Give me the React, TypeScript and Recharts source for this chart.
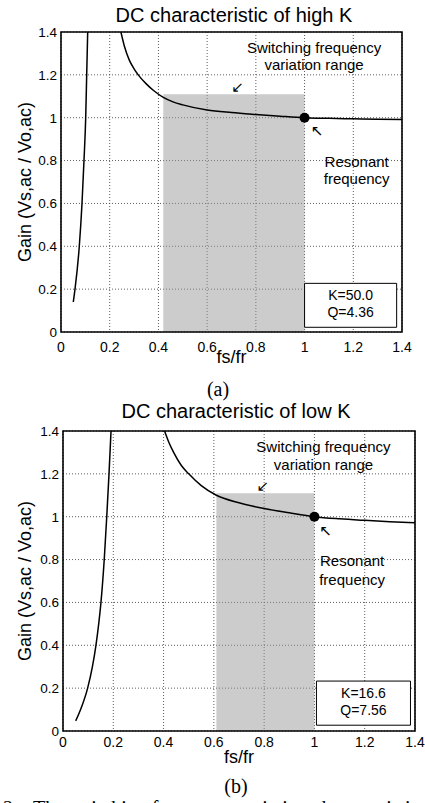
import { LineChart, Line, XAxis, YAxis, CartesianGrid, ReferenceArea, ReferenceDot } from 'recharts'

// shared axis ticks (fs/fr and gain both 0..1.4)
const axisTicks = [0, 0.2, 0.4, 0.6, 0.8, 1, 1.2, 1.4]

// (a) high K : K=50.0, Q=4.36
const highBelowX = [0.0505, 0.0575, 0.0751, 0.0862, 0.0944, 0.1014, 0.1055, 0.1096]
const highBelowGain = [0.14, 0.2, 0.4, 0.6, 0.8, 1.0, 1.2, 1.4]
const highAboveX = [0.246, 0.26, 0.28, 0.3, 0.317, 0.35, 0.38, 0.42, 0.46, 0.5, 0.6, 0.7, 0.8, 0.9, 1.0, 1.1, 1.2, 1.3, 1.4]
const highAboveGain = [1.4, 1.335, 1.27, 1.228, 1.2, 1.158, 1.127, 1.095, 1.074, 1.06, 1.036, 1.024, 1.015, 1.007, 1.0, 0.997, 0.995, 0.993, 0.992]
const highRange = [0.42, 1.0]

// (b) low K : K=16.6, Q=7.56
const lowBelowX = [0.0505, 0.07, 0.098, 0.117, 0.131, 0.142, 0.151, 0.164, 0.174, 0.183, 0.191]
const lowBelowGain = [0.047, 0.1, 0.2, 0.3, 0.4, 0.5, 0.6, 0.8, 1.0, 1.2, 1.4]
const lowAboveX = [0.404, 0.42, 0.44, 0.47, 0.5, 0.55, 0.61, 0.7, 0.8, 0.9, 1.0, 1.1, 1.2, 1.3, 1.4]
const lowAboveGain = [1.4, 1.35, 1.3, 1.24, 1.2, 1.145, 1.1, 1.065, 1.038, 1.018, 1.0, 0.99, 0.983, 0.977, 0.972]
const lowRange = [0.61, 1.0]

const rangeTop = 1.11
const resonant = { x: 1, y: 1 }

const sans = '"Liberation Sans", Arial, Helvetica, sans-serif'
const serif = '"Liberation Serif", "Times New Roman", serif'

const zip = (xs: number[], ys: number[]) => xs.map((x, i) => ({ x, gain: ys[i] }))

type Note = { x: number; y: number; text: string; size?: number; font?: string; middle?: boolean }

const noteShape = (n: Note) => (p: any) => (
  <text
    x={p.cx}
    y={p.cy}
    textAnchor="middle"
    dominantBaseline={n.middle ? 'central' : 'alphabetic'}
    fontSize={n.size ?? 15}
    fontFamily={n.font ?? sans}
    fill="#000"
  >
    {n.text}
  </text>
)

type ChartProps = {
  top: number
  height: number
  margin: { top: number; right: number; bottom: number; left: number }
  yWidth: number
  xTickGap: number
  xLabelBaseline: number
  title: string
  titleX: number
  titleY: number
  below: { x: number; gain: number }[]
  above: { x: number; gain: number }[]
  range: number[]
  box: number[]
  notes: Note[]
  caption: string
  captionX: number
  captionY: number
}

function GainChart(c: ChartProps) {
  return (
    <div style={{ position: 'absolute', left: 0, top: c.top, width: 425, height: c.height }}>
      <div
        style={{
          position: 'absolute',
          left: c.titleX - 200,
          width: 400,
          top: c.titleY - 17,
          textAlign: 'center',
          fontFamily: sans,
          fontSize: 20,
          lineHeight: '20px',
          color: '#000',
          whiteSpace: 'nowrap',
        }}
      >
        {c.title}
      </div>
      <LineChart width={425} height={c.height} margin={c.margin}>
        <CartesianGrid stroke="#333" strokeDasharray="1 2" strokeWidth={0.8} />
        <XAxis
          type="number"
          dataKey="x"
          domain={[0, 1.4]}
          ticks={axisTicks}
          allowDataOverflow
          axisLine={false}
          tickLine={false}
          tickSize={0}
          tickMargin={c.xTickGap}
          height={36}
          tick={{ fontSize: 14, fill: '#000', fontFamily: sans }}
          tickFormatter={(v) => String(v)}
          label={{
            content: (p: any) => {
              const vb = p.viewBox || {}
              return (
                <text x={vb.x + vb.width / 2} y={vb.y + c.xLabelBaseline} textAnchor="middle" fontSize={18} fontFamily={sans} fill="#000">
                  fs/fr
                </text>
              )
            },
          }}
        />
        <YAxis
          type="number"
          domain={[0, 1.4]}
          ticks={axisTicks}
          allowDataOverflow
          axisLine={false}
          tickLine={false}
          tickSize={0}
          tickMargin={4}
          width={c.yWidth}
          tick={{ fontSize: 13.5, fill: '#000', fontFamily: sans }}
          tickFormatter={(v) => String(v)}
          label={{
            content: (p: any) => {
              const vb = p.viewBox || {}
              const cx = 25
              const cy = vb.y + vb.height / 2
              return (
                <text
                  x={cx}
                  y={cy}
                  transform={`rotate(-90 ${cx} ${cy})`}
                  textAnchor="middle"
                  dy="0.36em"
                  fontSize={18}
                  fontFamily={sans}
                  fill="#000"
                >
                  Gain (Vs,ac / Vo,ac)
                </text>
              )
            },
          }}
        />
        <ReferenceArea x1={c.range[0]} x2={c.range[1]} y1={0} y2={rangeTop} fill="#9a9a9a" fillOpacity={0.5} stroke="none" />
        <Line data={c.below} dataKey="gain" type="monotone" stroke="#000" strokeWidth={1.5} dot={false} isAnimationActive={false} />
        <Line data={c.above} dataKey="gain" type="monotone" stroke="#000" strokeWidth={1.5} dot={false} isAnimationActive={false} />
        <ReferenceDot x={resonant.x} y={resonant.y} r={5} fill="#000" stroke="none" />
        <ReferenceArea x1={c.box[0]} x2={c.box[1]} y1={c.box[2]} y2={c.box[3]} fill="#fff" fillOpacity={1} stroke="#000" strokeWidth={1} />
        {c.notes.map((n, i) => (
          <ReferenceDot key={i} x={n.x} y={n.y} r={0} shape={noteShape(n)} />
        ))}
        <ReferenceArea x1={0} x2={1.4} y1={0} y2={1.4} fill="none" stroke="#000" strokeWidth={1.6} />
      </LineChart>
      <div
        style={{
          position: 'absolute',
          left: c.captionX - 50,
          width: 100,
          top: c.captionY - 17,
          textAlign: 'center',
          fontFamily: serif,
          fontSize: 20,
          lineHeight: '20px',
          color: '#000',
        }}
      >
        {c.caption}
      </div>
    </div>
  )
}

const arrowFont = '"DejaVu Sans", sans-serif'

export default function App() {
  return (
    <div style={{ position: 'absolute', left: 0, top: 0, width: 425, height: 803, overflow: 'hidden', background: '#fff' }}>
      <GainChart
        top={0}
        height={400}
        margin={{ top: 32, right: 23, bottom: 32, left: 0 }}
        yWidth={61}
        xTickGap={10}
        xLabelBaseline={31}
        title="DC characteristic of high K"
        titleX={234}
        titleY={22}
        below={zip(highBelowX, highBelowGain)}
        above={zip(highAboveX, highAboveGain)}
        range={highRange}
        box={[1.0, 1.378, 0.022, 0.227]}
        notes={[
          { x: 1.039, y: 1.3, text: 'Switching frequency' },
          { x: 1.039, y: 1.222, text: 'variation range' },
          { x: 0.725, y: 1.143, text: '↙', size: 15, font: arrowFont, middle: true },
          { x: 1.051, y: 0.938, text: '↖', size: 15, font: arrowFont, middle: true },
          { x: 1.214, y: 0.77, text: 'Resonant' },
          { x: 1.214, y: 0.69, text: 'frequency' },
          { x: 1.189, y: 0.149, text: 'K=50.0', size: 14 },
          { x: 1.189, y: 0.071, text: 'Q=4.36', size: 14 },
        ]}
        caption="(a)"
        captionX={218}
        captionY={396}
      />
      <GainChart
        top={400}
        height={403}
        margin={{ top: 31, right: 10, bottom: 36, left: 0 }}
        yWidth={63}
        xTickGap={6}
        xLabelBaseline={31.6}
        title="DC characteristic of low K"
        titleX={236}
        titleY={18}
        below={zip(lowBelowX, lowBelowGain)}
        above={zip(lowAboveX, lowAboveGain)}
        range={lowRange}
        box={[1.008, 1.382, 0.027, 0.233]}
        notes={[
          { x: 1.036, y: 1.302, text: 'Switching frequency' },
          { x: 1.036, y: 1.217, text: 'variation range' },
          { x: 0.795, y: 1.142, text: '↙', size: 15, font: arrowFont, middle: true },
          { x: 1.044, y: 0.932, text: '↖', size: 15, font: arrowFont, middle: true },
          { x: 1.15, y: 0.77, text: 'Resonant' },
          { x: 1.15, y: 0.683, text: 'frequency' },
          { x: 1.195, y: 0.152, text: 'K=16.6', size: 14 },
          { x: 1.195, y: 0.074, text: 'Q=7.56', size: 14 },
        ]}
        caption="(b)"
        captionX={236}
        captionY={393}
      />
      <div style={{ position: 'absolute', left: 3, top: 798, fontFamily: serif, fontSize: 20, lineHeight: '20px', whiteSpace: 'nowrap', color: '#000' }}>
        2.&nbsp;&nbsp;&nbsp;The switching frequency variation characteristics
      </div>
    </div>
  )
}
